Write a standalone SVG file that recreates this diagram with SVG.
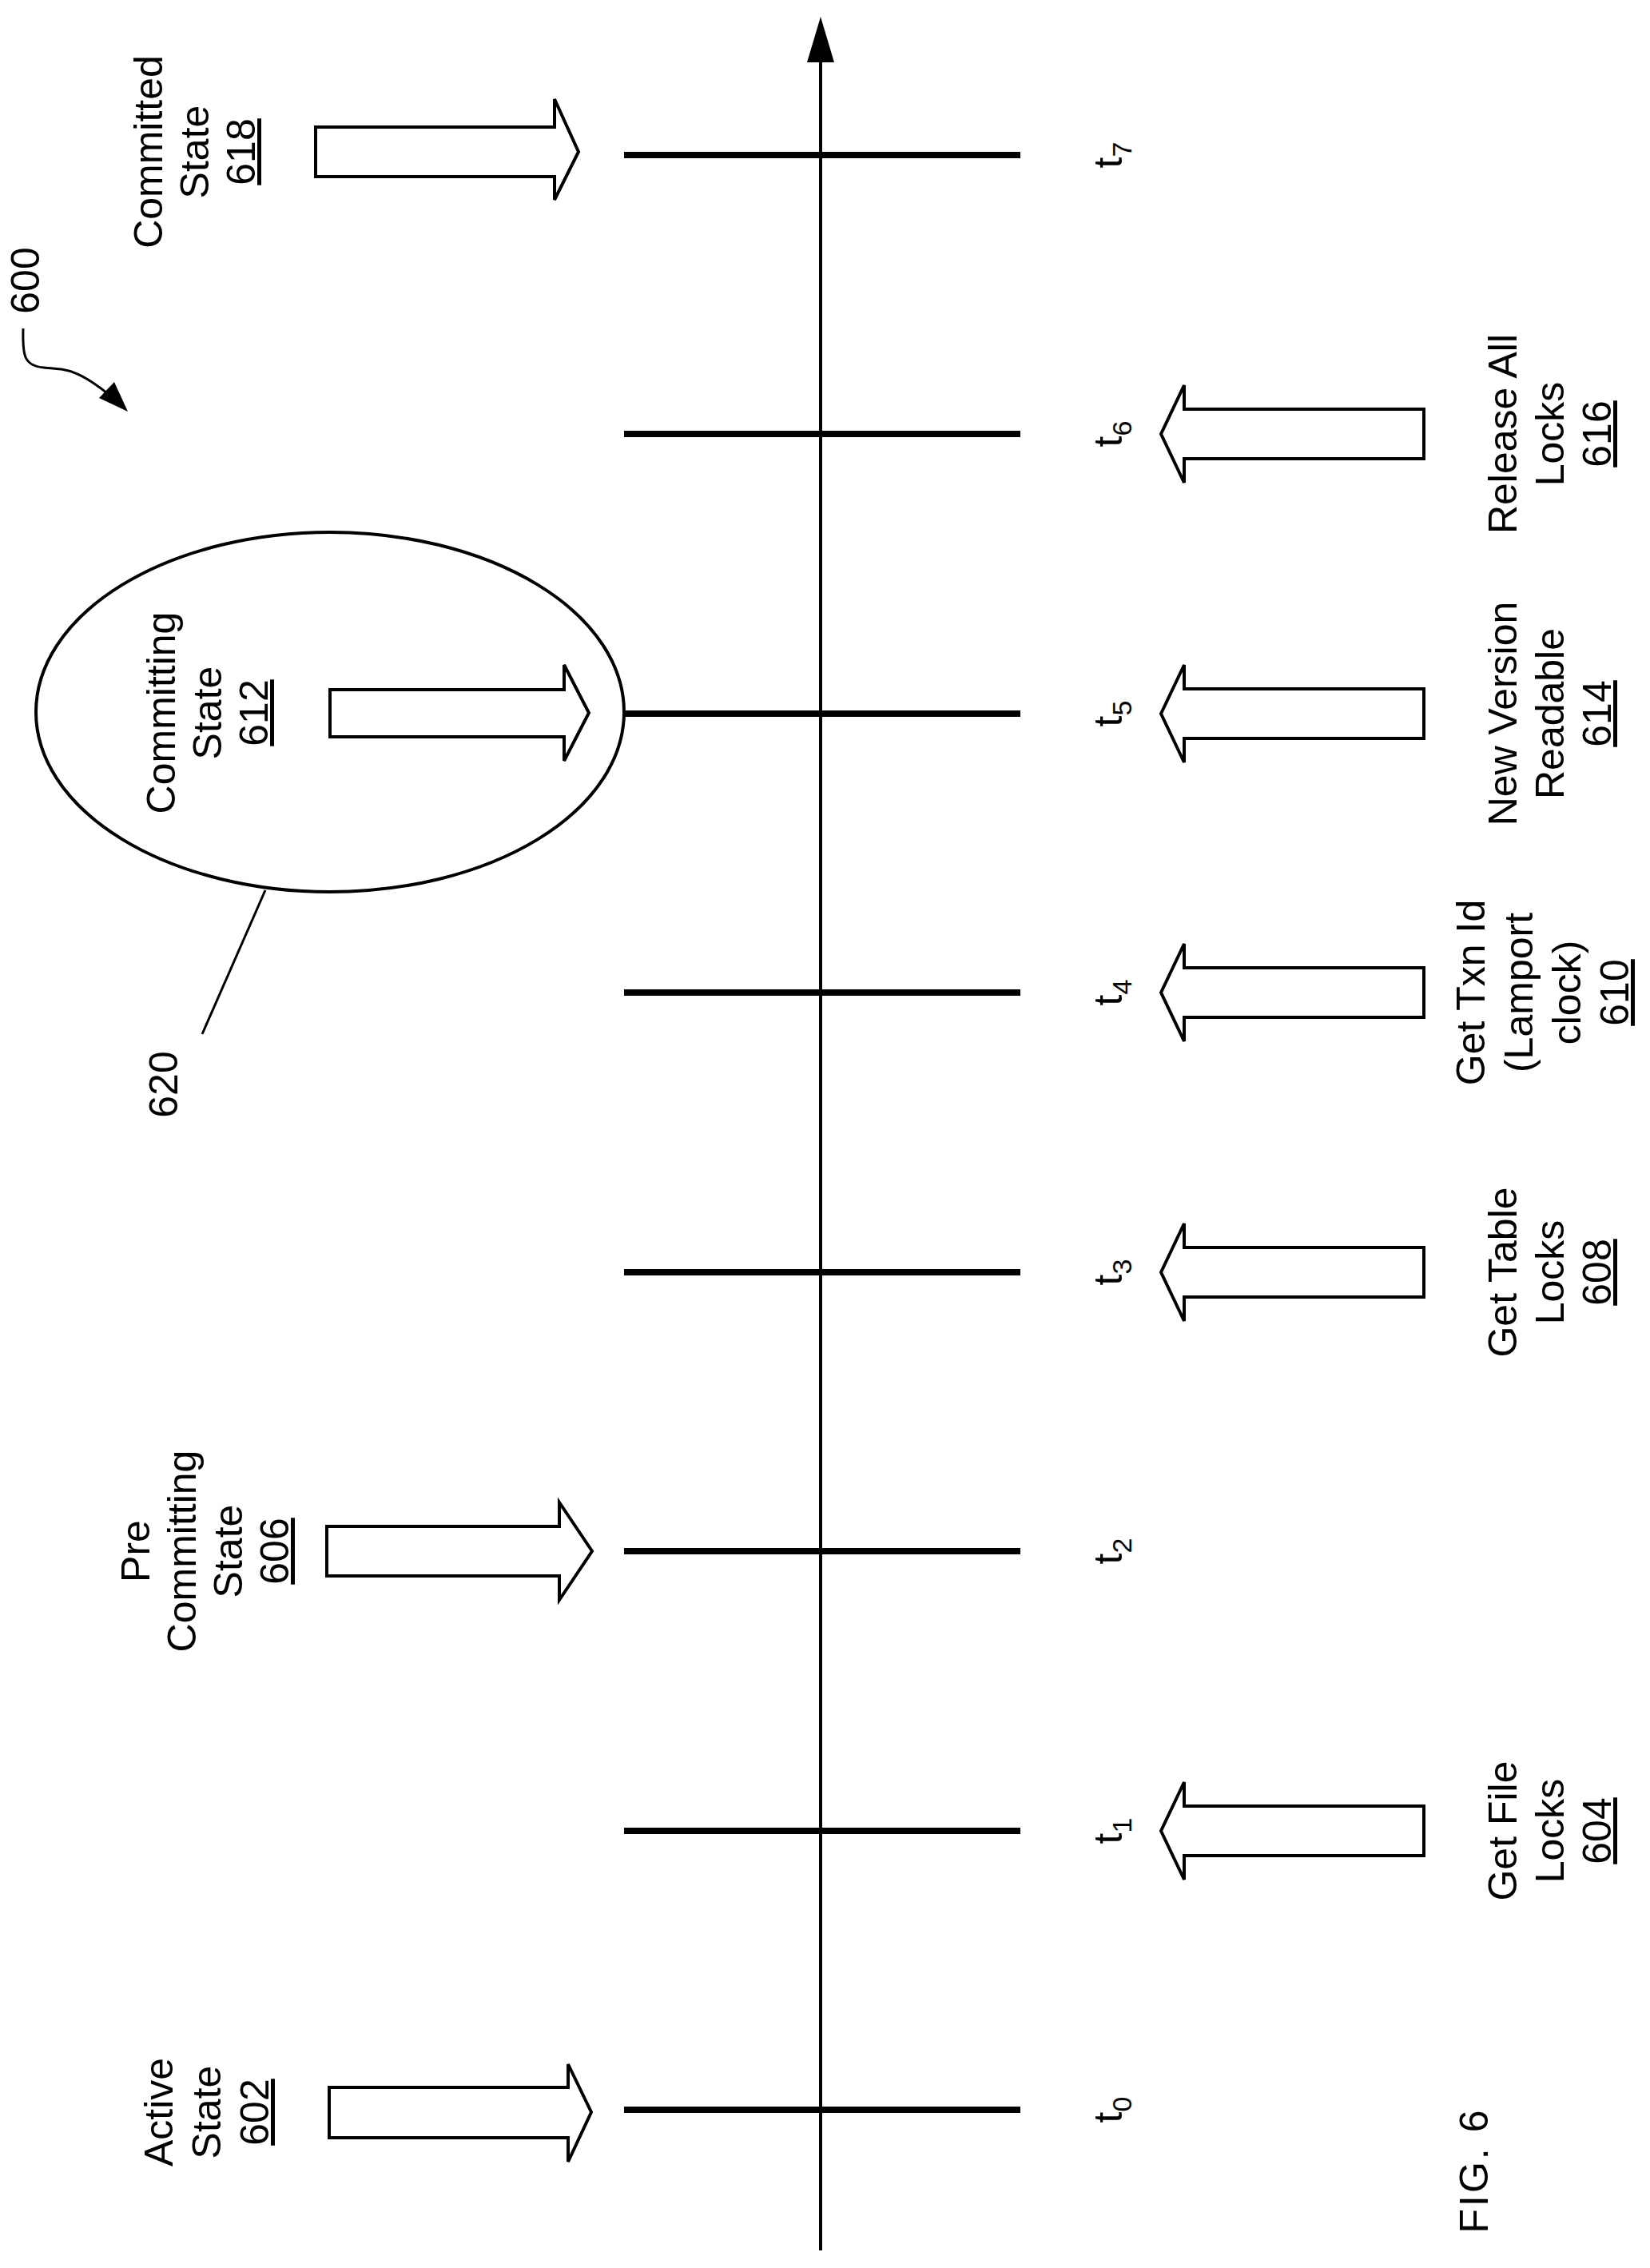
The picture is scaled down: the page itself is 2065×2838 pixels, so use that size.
<svg xmlns="http://www.w3.org/2000/svg" width="2065" height="2838" viewBox="0 0 2065 2838">
<defs>
<style>
text{font-family:"Liberation Sans",Arial,sans-serif;font-size:50px;fill:#000;text-anchor:middle}
.u{text-decoration:underline}
.tick{stroke:#000;stroke-width:8}
.ar{fill:#fff;stroke:#000;stroke-width:4;stroke-linejoin:miter}
.sub{font-size:34px}
</style>
</defs>
<rect width="2065" height="2838" fill="#fff"/>
<g id="connectors">
<line x1="1027" y1="2816" x2="1027" y2="70" stroke="#000" stroke-width="4"/>
<polygon points="1027,21 1010,78 1044,78" fill="#000"/>
<line class="tick" x1="781" y1="194" x2="1277" y2="194"/>
<line class="tick" x1="781" y1="543" x2="1277" y2="543"/>
<line class="tick" x1="781" y1="893" x2="1277" y2="893"/>
<line class="tick" x1="781" y1="1242" x2="1277" y2="1242"/>
<line class="tick" x1="781" y1="1592" x2="1277" y2="1592"/>
<line class="tick" x1="781" y1="1941" x2="1277" y2="1941"/>
<line class="tick" x1="781" y1="2291" x2="1277" y2="2291"/>
<line class="tick" x1="781" y1="2640" x2="1277" y2="2640"/>
<line x1="332" y1="1114" x2="253" y2="1294" stroke="#000" stroke-width="3"/>
<path d="M29,411 C28,445 30,458 55,460 C85,462 100,462 150,505" fill="none" stroke="#000" stroke-width="3"/>
<polygon points="160,515 124,498 143,478" fill="#000"/>
</g>
<g id="ref600"><text transform="translate(49,351) rotate(-90)" font-size="45">600</text></g>
<g id="ref620"><text transform="translate(222,1357) rotate(-90)" font-size="45">620</text></g>
<g id="n620"><ellipse cx="413" cy="891" rx="368" ry="225" fill="none" stroke="#000" stroke-width="4"/></g>
<g id="n618">
<polygon class="ar" points="395,159 694,159 694,124 724,190 694,250 694,221 395,221"/>
<text transform="translate(203,190) rotate(-90)"><tspan x="0" y="0">Committed</tspan><tspan x="0" dy="58">State</tspan><tspan x="0" dy="58" class="u">618</tspan></text>
</g>
<g id="n612">
<polygon class="ar" points="413,863 706,863 706,832 737,892 706,952 706,922 413,922"/>
<text transform="translate(219,892) rotate(-90)"><tspan x="0" y="0">Committing</tspan><tspan x="0" dy="58">State</tspan><tspan x="0" dy="58" class="u">612</tspan></text>
</g>
<g id="n606">
<polygon class="ar" points="409,1910 700,1910 700,1880 741,1941 700,2002 700,1972 409,1972"/>
<text transform="translate(187,1941) rotate(-90)"><tspan x="0" y="0">Pre</tspan><tspan x="0" dy="58">Committing</tspan><tspan x="0" dy="58">State</tspan><tspan x="0" dy="58" class="u">606</tspan></text>
</g>
<g id="n602">
<polygon class="ar" points="412,2612 711,2612 711,2583 740,2643 711,2705 711,2675 412,2675"/>
<text transform="translate(216,2643) rotate(-90)"><tspan x="0" y="0">Active</tspan><tspan x="0" dy="60">State</tspan><tspan x="0" dy="60" class="u">602</tspan></text>
</g>
<g id="n616">
<polygon class="ar" points="1453,543 1482,482 1482,512 1782,512 1782,574 1482,574 1482,604"/>
<text transform="translate(1898,543) rotate(-90)"><tspan x="0" y="0">Release All</tspan><tspan x="0" dy="59">Locks</tspan><tspan x="0" dy="59" class="u">616</tspan></text>
</g>
<g id="n614">
<polygon class="ar" points="1453,893 1482,832 1482,862 1782,862 1782,924 1482,924 1482,954"/>
<text transform="translate(1898,893) rotate(-90)"><tspan x="0" y="0">New Version</tspan><tspan x="0" dy="59">Readable</tspan><tspan x="0" dy="59" class="u">614</tspan></text>
</g>
<g id="n610">
<polygon class="ar" points="1453,1242 1482,1181 1482,1211 1782,1211 1782,1273 1482,1273 1482,1303"/>
<text transform="translate(1858,1242) rotate(-90)"><tspan x="0" y="0">Get Txn Id</tspan><tspan x="0" dy="60">(Lamport</tspan><tspan x="0" dy="60">clock)</tspan><tspan x="0" dy="60" class="u">610</tspan></text>
</g>
<g id="n608">
<polygon class="ar" points="1453,1592 1482,1531 1482,1561 1782,1561 1782,1623 1482,1623 1482,1653"/>
<text transform="translate(1898,1592) rotate(-90)"><tspan x="0" y="0">Get Table</tspan><tspan x="0" dy="59">Locks</tspan><tspan x="0" dy="59" class="u">608</tspan></text>
</g>
<g id="n604">
<polygon class="ar" points="1453,2291 1482,2230 1482,2260 1782,2260 1782,2322 1482,2322 1482,2352"/>
<text transform="translate(1898,2291) rotate(-90)"><tspan x="0" y="0">Get File</tspan><tspan x="0" dy="59">Locks</tspan><tspan x="0" dy="59" class="u">604</tspan></text>
</g>
<g id="tlabels">
<text transform="translate(1404,194) rotate(-90)" font-size="54">t<tspan class="sub" dy="12">7</tspan></text>
<text transform="translate(1404,543) rotate(-90)" font-size="54">t<tspan class="sub" dy="12">6</tspan></text>
<text transform="translate(1404,893) rotate(-90)" font-size="54">t<tspan class="sub" dy="12">5</tspan></text>
<text transform="translate(1404,1242) rotate(-90)" font-size="54">t<tspan class="sub" dy="12">4</tspan></text>
<text transform="translate(1404,1592) rotate(-90)" font-size="54">t<tspan class="sub" dy="12">3</tspan></text>
<text transform="translate(1404,1941) rotate(-90)" font-size="54">t<tspan class="sub" dy="12">2</tspan></text>
<text transform="translate(1404,2291) rotate(-90)" font-size="54">t<tspan class="sub" dy="12">1</tspan></text>
<text transform="translate(1404,2640) rotate(-90)" font-size="54">t<tspan class="sub" dy="12">0</tspan></text>
</g>
<g id="fig"><text transform="translate(1862,2716) rotate(-90)" font-size="104" letter-spacing="3">FIG. 6</text></g>
</svg>
